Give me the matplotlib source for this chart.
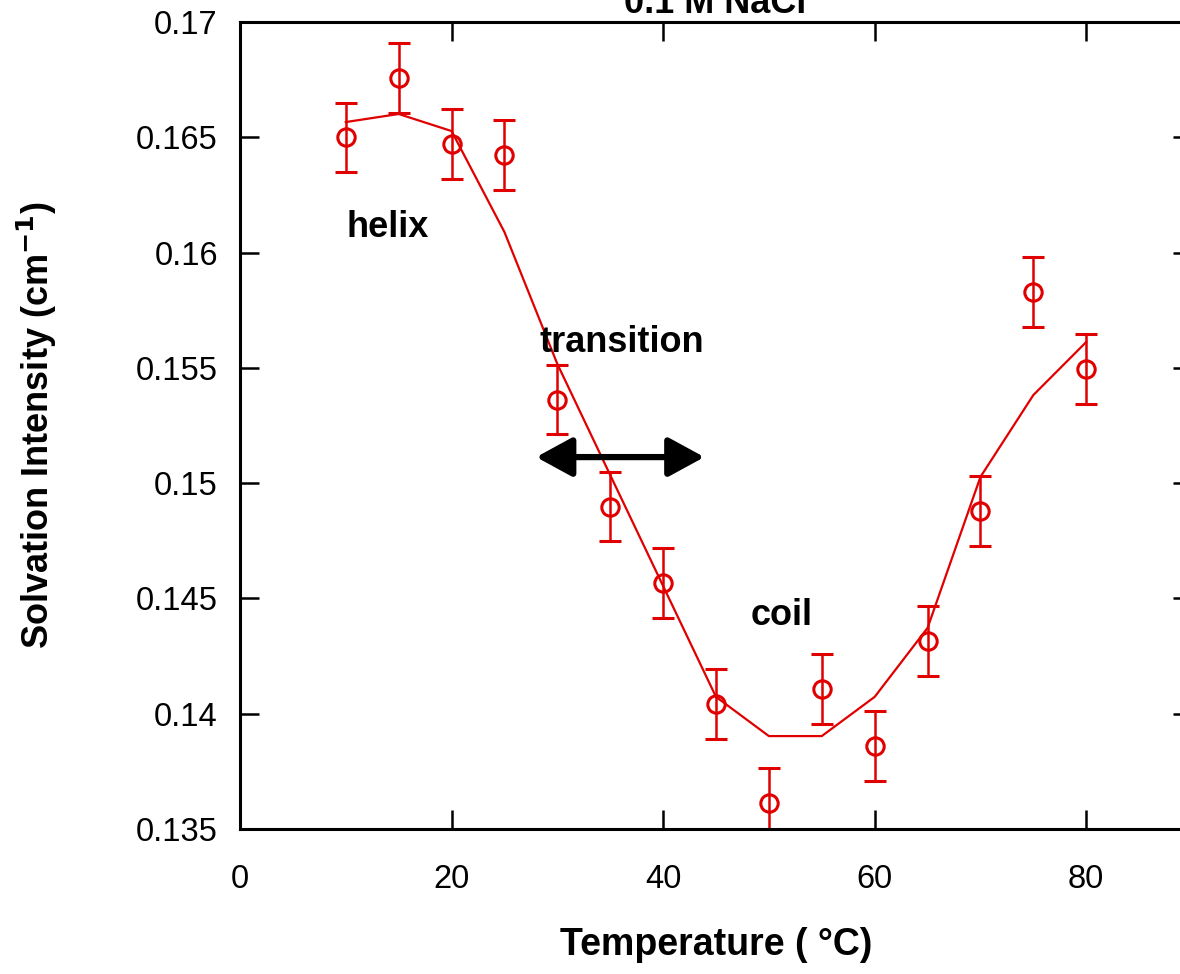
import matplotlib
matplotlib.use("Agg")
import matplotlib.pyplot as plt

plt.rcParams['font.family'] = ['Liberation Sans', 'DejaVu Sans']

# measured points
temp = [10, 15, 20, 25, 30, 35, 40, 45, 50, 55, 60, 65, 70, 75, 80]
intensity = [0.1650, 0.16757, 0.16471, 0.16423, 0.15361, 0.14897, 0.14567,
             0.14042, 0.13613, 0.14107, 0.1386, 0.14315, 0.14879, 0.15829, 0.15495]
err = [0.0015] * len(temp)

# fitted curve
fit = [0.16566, 0.16601, 0.16527, 0.16089, 0.15517, 0.15035, 0.14554,
       0.14073, 0.13903, 0.13903, 0.14073, 0.14372, 0.15027, 0.15382, 0.15612]

red = '#e00000'

fig = plt.figure(figsize=(11.8, 9.74), dpi=100)
ax = fig.add_axes([240/1180, (974-829)/974, 952/1180, 807/974])

ax.plot(temp, fit, color=red, lw=1.6)
ax.errorbar(temp, intensity, yerr=err, fmt='o', mfc='none', mec=red, ms=12.5,
            mew=2.2, ecolor=red, elinewidth=1.8, capsize=8, capthick=1.8)

ax.set_xlim(0, 90)
ax.set_ylim(0.135, 0.17)
ax.set_xticks([0, 20, 40, 60, 80])
ax.set_yticks([0.135, 0.14, 0.145, 0.15, 0.155, 0.16, 0.165, 0.17])
ax.set_yticklabels(['0.135', '0.14', '0.145', '0.15', '0.155', '0.16', '0.165', '0.17'])
ax.tick_params(direction='in', length=14, width=1.8, top=True, right=True,
               labelsize=23.5)
ax.tick_params(axis='x', pad=25)
ax.tick_params(axis='y', pad=16)
for s in ax.spines.values():
    s.set_linewidth(2.2)

ax.set_xlabel('Temperature ( °C)', fontsize=27, fontweight='bold')
ax.xaxis.set_label_coords(0.5, -0.122)
ax.set_ylabel('Solvation Intensity (cm$^{\\mathbf{-1}}$)', fontsize=26, fontweight='bold')
ax.yaxis.set_label_coords(-0.19, 0.5)

ax.text(10.1, 0.16107, 'helix', fontsize=26, fontweight='bold', va='center')
ax.text(28.3, 0.15608, 'transition', fontsize=26, fontweight='bold', va='center')
ax.text(48.3, 0.14424, 'coil', fontsize=26, fontweight='bold', va='center')

ax.annotate('', xy=(43.9, 0.15113), xytext=(28.0, 0.15113),
            arrowprops=dict(arrowstyle='<|-|>,head_length=1.1,head_width=0.6',
                            color='black', lw=4.5, shrinkA=0, shrinkB=0,
                            mutation_scale=20))

fig.text(715/1180, 1 - 13/974, '0.1 M NaCl', ha='center', va='baseline',
         fontsize=26, fontweight='bold')

fig.savefig('out.png', dpi=100)
